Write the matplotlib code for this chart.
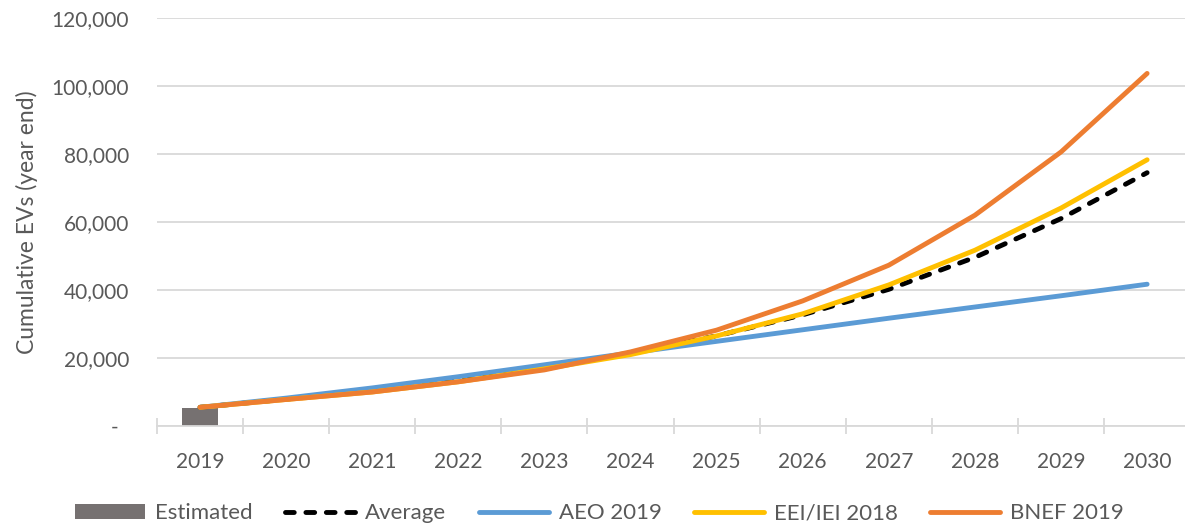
import matplotlib
matplotlib.use('Agg')
import matplotlib.pyplot as plt
import numpy as np

plt.rcParams['font.family'] = ['Lato', 'DejaVu Sans']

years = ['2019', '2020', '2021', '2022', '2023', '2024', '2025', '2026', '2027', '2028', '2029', '2030']
estimated = [5200]
average = [5500, 7900, 10300, 13300, 17000, 21300, 26500, 32700, 40200, 49600, 61000, 74500]
aeo_2019 = [5500, 8200, 11200, 14500, 18000, 21500, 24900, 28300, 31700, 35000, 38300, 41700]
eei_2018 = [5500, 7800, 10000, 13000, 16800, 21000, 26500, 33000, 41500, 51700, 64100, 78300]
bnef_2019 = [5500, 7800, 10000, 13000, 16500, 21800, 28200, 36800, 47300, 62000, 80600, 103700]

grey = '#595959'
grid = '#d9d9d9'

fig = plt.figure(figsize=(11.85, 5.27), dpi=100)
ax = fig.add_axes([157/1185, 101/527, 1 - 157/1185, 408/527])
x = np.arange(len(years))

lw = 3.5
b = ax.bar(x[:1], estimated, width=0.42, color='#767171', label='Estimated', zorder=2)
l1, = ax.plot(x, average, color='black', lw=lw, dashes=(1.8, 2.4), dash_capstyle='round',
              label='Average', zorder=3)
l2, = ax.plot(x, aeo_2019, color='#5B9BD5', lw=lw, solid_capstyle='round', label='AEO 2019', zorder=4)
l3, = ax.plot(x, eei_2018, color='#FFC000', lw=lw, solid_capstyle='round', label='EEI/IEI 2018', zorder=5)
l4, = ax.plot(x, bnef_2019, color='#ED7D31', lw=lw, solid_capstyle='round', label='BNEF 2019', zorder=6)

ax.set_xlim(-0.5, 11.44)
ax.set_ylim(0, 120000)
ax.set_yticks(np.arange(0, 120001, 20000))
# excel accounting format pads the zero dash
ax.set_yticklabels(['-\u00a0\u00a0'] + ['{:,}'.format(v) for v in range(20000, 120001, 20000)])
ax.yaxis.grid(True, color=grid, lw=1.3, zorder=0)
ax.set_axisbelow(True)

ax.set_xticks(x)
ax.set_xticklabels(years)
ax.set_xticks(np.arange(-0.5, 11.5, 1), minor=True)
ax.tick_params(axis='x', which='major', length=0, pad=19, labelsize=15, labelcolor=grey)
ax.tick_params(axis='x', which='minor', direction='inout', length=12, color=grid, width=1.3)
ax.tick_params(axis='y', length=0, pad=20, labelsize=15, labelcolor=grey)

for s in ['top', 'right', 'left']:
    ax.spines[s].set_visible(False)
ax.spines['bottom'].set_color(grid)
ax.spines['bottom'].set_linewidth(1.3)

ax.set_ylabel('Cumulative EVs (year end)', fontsize=16.5, color=grey, labelpad=10)

fig.legend([b, l1, l2, l3, l4], ['Estimated', 'Average', 'AEO 2019', 'EEI/IEI 2018', 'BNEF 2019'],
           loc='center', bbox_to_anchor=(0.506, 0.026), ncol=5, frameon=False,
           fontsize=16, labelcolor=grey, handlelength=3.15, columnspacing=1.45,
           handletextpad=0.45)

fig.savefig('out.png', dpi=100)
